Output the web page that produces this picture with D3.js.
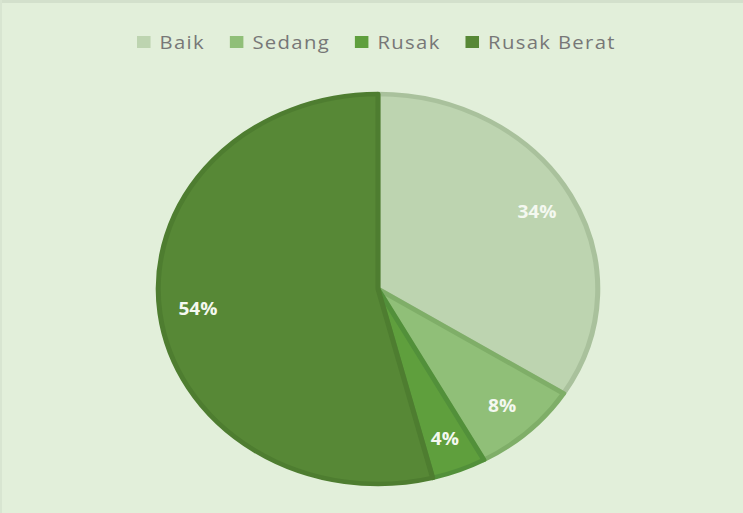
<!DOCTYPE html>
<html>
<head>
<meta charset="utf-8">
<script src="https://cdn.jsdelivr.net/npm/d3@7"></script>
<style>
  html, body { margin: 0; padding: 0; background: #e2efda; }
  svg { display: block; }
</style>
</head>
<body>
<svg id="chart" width="743" height="513"></svg>
<script>
const categories = ["Baik", "Sedang", "Rusak", "Rusak Berat"];
const values = [34, 8, 4, 54];
const labels = ["34%", "8%", "4%", "54%"];
const fills = ["#bdd4b0", "#90bf78", "#5f9f3d", "#578836"];
const strokes = ["#a9c19c", "#7fae68", "#52903a", "#4e7d30"];

const W = 743, H = 513;
const svg = d3.select("#chart");
svg.append("rect").attr("width", W).attr("height", H).attr("fill", "#e2efda");
svg.append("rect").attr("x", 0).attr("y", 0).attr("width", W).attr("height", 3).attr("fill", "#d3e0cc");
svg.append("rect").attr("x", 0).attr("y", 0).attr("width", 2).attr("height", H).attr("fill", "#d8e5d1");

const data = categories.map((c, i) => ({ name: c, value: values[i], label: labels[i], i }));

const ry = 197, rx = 222;
const sx = rx / ry;
const cx = 378, cy = 289;

const pie = d3.pie().value(d => d.value).sort(null);
const arcs = pie(data);
const arc = d3.arc().innerRadius(0).outerRadius(ry - 2);
const labelArc = d3.arc().innerRadius(161).outerRadius(161);

const g = svg.append("g").attr("transform", `translate(${cx},${cy}) scale(${sx},1)`);
g.selectAll("path.slice").data(arcs).join("path")
  .attr("class", "slice")
  .attr("d", arc)
  .attr("fill", d => fills[d.data.i])
  .attr("stroke", d => strokes[d.data.i])
  .attr("stroke-width", 4.5)
  .attr("stroke-linejoin", "round");

g.selectAll("text.lbl").data(arcs).join("text")
  .attr("class", "lbl")
  .attr("transform", d => `translate(${labelArc.centroid(d)})`)
  .attr("text-anchor", "middle")
  .attr("dy", "0.36em")
  .attr("font-family", "'Open Sans', sans-serif")
  .attr("font-weight", 700)
  .attr("font-size", 17)
  .attr("fill", "#f4f8f0")
  .text(d => d.data.label);

// Legend
const lg = svg.append("g").attr("transform", `translate(137,0) scale(${sx},1)`);
let x = 0;
const sq = 12, gapAfterSq = 8, gapItem = 22;
data.forEach(d => {
  lg.append("rect").attr("x", x).attr("y", 36).attr("width", sq).attr("height", sq)
    .attr("fill", fills[d.i]);
  const t = lg.append("text").attr("x", x + sq + gapAfterSq).attr("y", 49)
    .attr("font-family", "'Open Sans', sans-serif")
    .attr("font-size", 18)
    .attr("letter-spacing", 1.2)
    .attr("fill", "#777777")
    .text(d.name);
  x += sq + gapAfterSq + t.node().getComputedTextLength() + gapItem;
});
</script>
</body>
</html>
